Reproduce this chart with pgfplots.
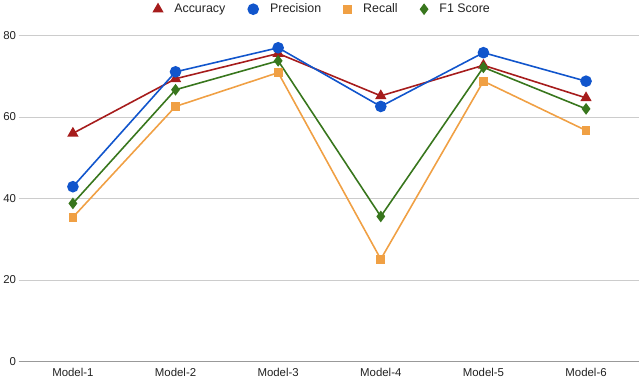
\documentclass[border=0pt]{standalone}
\usepackage{fontspec}
\setmainfont{Liberation Sans}
\usepackage{pgfplots}
\pgfplotsset{compat=1.18}

\definecolor{accred}{HTML}{A61C1C}
\definecolor{precblue}{HTML}{1155CC}
\definecolor{recorange}{HTML}{F0A044}
\definecolor{f1green}{HTML}{38761D}
\definecolor{gridgray}{HTML}{CCCCCC}
\definecolor{txtgray}{HTML}{222222}

\pgfplotstableread{
x acc prec rec f1
0 56.0 42.9 35.4 38.8
1 69.4 71.1 62.6 66.7
2 75.6 77.0 70.9 73.8
3 65.2 62.6 25.1 35.6
4 72.7 75.8 68.8 72.2
5 64.7 68.8 56.7 62.0
}\scores

\begin{document}
\begin{tikzpicture}[x=1bp,y=1bp]
\begin{axis}[
    scale only axis,
    width=623bp, height=327bp,
    xmin=-0.53, xmax=5.52,
    ymin=0, ymax=80,
    xtick={0,1,2,3,4,5},
    xticklabels={Model-1,Model-2,Model-3,Model-4,Model-5,Model-6},
    ytick={0,20,40,60,80},
    ymajorgrids,
    grid style={gridgray, line width=0.8pt},
    axis x line*=bottom,
    axis y line*=left,
    y axis line style={draw=none},
    x axis line style={draw=gray!80, line width=1.2pt, -},
    xtick style={draw=none},
    ytick style={draw=none},
    tick label style={font=\fontsize{11.5}{13}\selectfont, text=txtgray},
    /pgf/number format/assume math mode=true,
    xticklabel style={yshift=-3bp},
    yticklabel style={xshift=1bp},
    legend style={at={(0.49,1.0)}, anchor=south, draw=none, fill=none,
        font=\fontsize{12.5}{14}\selectfont, text=txtgray,
        legend columns=4, yshift=17bp,
        /tikz/every odd column/.append style={column sep=10bp},
        /tikz/every even column/.append style={column sep=21bp}},
    legend image code/.code={\draw[#1, only marks] plot coordinates {(0.15cm,0cm)};},
    every axis plot/.append style={line width=1.6pt},
]
\addplot[color=accred, mark=triangle*, mark size=5bp] table[x=x, y=acc] {\scores};
\addlegendentry{Accuracy}
\addplot[color=precblue, mark=*, mark size=5bp] table[x=x, y=prec] {\scores};
\addlegendentry{Precision}
\addplot[color=recorange, mark=square*, mark size=3.6bp] table[x=x, y=rec] {\scores};
\addlegendentry{Recall}
\addplot[color=f1green, mark=diamond*, mark size=4.6bp] table[x=x, y=f1] {\scores};
\addlegendentry{F1 Score}
\end{axis}
\end{tikzpicture}
\end{document}
